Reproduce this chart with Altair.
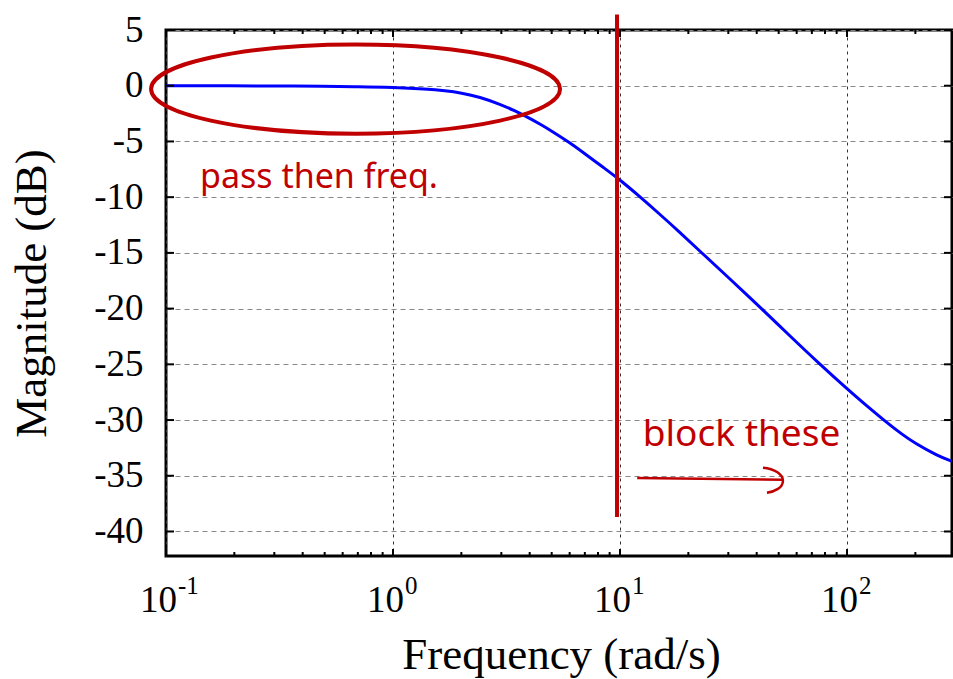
import altair as alt
import pandas as pd

# ---- data ----
freq = [0.1, 0.2, 0.3, 0.5, 0.7, 1.0, 1.4, 1.7, 2.0, 2.4, 3.0, 3.4, 3.9, 4.5, 5.0,
        6.0, 7.0, 8.5, 10, 12.3, 15, 18, 22.9, 30, 42, 55, 75, 100, 120, 145,
        175, 200, 250, 290]
mag = [0.0, -0.01, -0.02, -0.05, -0.08, -0.15, -0.3, -0.45, -0.65, -1.0, -1.7, -2.2,
       -2.8, -3.5, -4.07, -5.1, -6.1, -7.38, -8.45, -10.0, -11.55, -13.0, -15.0, -17.2,
       -20.0, -22.3, -24.9, -27.2, -28.6, -30.0, -31.3, -32.1, -33.2, -33.7]

y_ticks = [5, 0, -5, -10, -15, -20, -25, -30, -35, -40]
decades = [0.1, 1, 10, 100]
exponents = ["-1", "0", "1", "2"]
minor_x = [0.2, 0.3, 0.4, 0.5, 0.6, 0.7, 0.8, 0.9,
           2, 3, 4, 5, 6, 7, 8, 9,
           20, 30, 40, 50, 60, 70, 80, 90, 200]

# annotations (data coordinates)
ellipse_f, ellipse_db = [0.684], [-0.3]
cut_f, cut_top, cut_bottom = [9.7], [6.4], [-38.7]
note_labels = ["pass then freq.", "block these"]
note_f = [0.1412, 12.6]
note_db = [-9.15, -32.3]
note_size = [34, 37]
arrow_f, arrow_f2 = [11.9], [52.2]
arrow_db, arrow_db2 = [-35.2], [-35.35]

W, H = 786, 526
RED = "#C00000"
SERIF = "Liberation Serif"

xscale = alt.Scale(type="log", domain=[0.1, 290], nice=False)
yscale = alt.Scale(domain=[-42.2, 5], nice=False, zero=False)

xaxis = alt.Axis(
    values=decades, grid=True, gridColor="#333333", gridDash=[3, 4],
    gridWidth=1, gridOpacity=1, labels=False, ticks=False, domain=False,
    title="Frequency (rad/s)", titleFont=SERIF, titleFontSize=45,
    titleFontWeight="normal", titleColor="black",
    titleX=395, titleY=112, titleAlign="center", titleBaseline="alphabetic")
yaxis = alt.Axis(
    values=y_ticks, grid=True, gridColor="#888888", gridDash=[5, 4],
    gridWidth=1, gridOpacity=1, ticks=False, domain=False,
    labelExpr="'' + datum.value", labelFont=SERIF, labelFontSize=37,
    labelColor="black", labelPadding=23, labelBaseline="middle",
    title="Magnitude (dB)", titleFont=SERIF, titleFontSize=45,
    titleFontWeight="normal", titleColor="black", titleAngle=270,
    titleX=-121, titleY=263, titleAlign="center", titleBaseline="alphabetic")


def X(field):
    return alt.X(field, scale=xscale, axis=xaxis)


def Y(field):
    return alt.Y(field, scale=yscale, axis=yaxis)


curve_df = pd.DataFrame({"f": freq, "db": mag})

curve = alt.Chart(curve_df).mark_line(
    color="#0000FF", strokeWidth=3, interpolate="basis", clip=True
).encode(x=X("f:Q"), y=Y("db:Q"))

ellipse_path = ("M-1,0 C-1,-0.1204 -0.5523,-0.218 0,-0.218 "
                "C0.5523,-0.218 1,-0.1204 1,0 "
                "C1,0.1204 0.5523,0.218 0,0.218 "
                "C-0.5523,0.218 -1,0.1204 -1,0 Z")
ellipse = alt.Chart(pd.DataFrame({"f": ellipse_f, "db": ellipse_db})).mark_point(
    shape=ellipse_path, size=409 * 409, filled=False, strokeWidth=4,
    color=RED, opacity=1, clip=False
).encode(x=X("f:Q"), y=Y("db:Q"))

cutoff = alt.Chart(pd.DataFrame({"f": cut_f, "top": cut_top, "bot": cut_bottom})).mark_rule(
    color=RED, strokeWidth=4, clip=False
).encode(x=X("f:Q"), y=Y("top:Q"), y2="bot:Q")

notes = alt.Chart(pd.DataFrame({"f": note_f, "db": note_db, "t": note_labels,
                                "s": note_size})).mark_text(
    color=RED, font="Noto Sans", align="left", baseline="alphabetic"
).encode(x=X("f:Q"), y=Y("db:Q"), text="t:N",
         size=alt.Size("s:Q", scale=None, legend=None))

shaft = alt.Chart(pd.DataFrame({"f": arrow_f, "f2": arrow_f2,
                                "db": arrow_db, "db2": arrow_db2})).mark_rule(
    color=RED, strokeWidth=2.5
).encode(x=X("f:Q"), x2="f2:Q", y=Y("db:Q"), y2="db2:Q")

head_path = "M-1,-0.6 C-0.4,-0.55 0,-0.25 0,0.05 C0,0.4 -0.4,0.6 -0.8,0.65"
head = alt.Chart(pd.DataFrame({"f": arrow_f2, "db": arrow_db2})).mark_point(
    shape=head_path, size=40 * 40, filled=False, strokeWidth=2.5, color=RED, opacity=1
).encode(x=X("f:Q"), y=Y("db:Q"))

# inward tick marks (gnuplot style)
yt_df = pd.DataFrame({"v": y_ticks})
ytick_l = alt.Chart(yt_df).mark_rule(color="black", strokeWidth=2).encode(
    y=Y("v:Q"), x=alt.value(0), x2=alt.value(8))
ytick_r = alt.Chart(yt_df).mark_rule(color="black", strokeWidth=2).encode(
    y=Y("v:Q"), x=alt.value(W - 8), x2=alt.value(W))

dec_df = pd.DataFrame({"v": decades, "e": exponents})
min_df = pd.DataFrame({"v": minor_x})
xtick_maj_b = alt.Chart(dec_df).mark_rule(color="black", strokeWidth=2).encode(
    x=X("v:Q"), y=alt.value(H), y2=alt.value(H - 7))
xtick_maj_t = alt.Chart(dec_df).mark_rule(color="black", strokeWidth=2).encode(
    x=X("v:Q"), y=alt.value(0), y2=alt.value(7))
xtick_min_b = alt.Chart(min_df).mark_rule(color="black", strokeWidth=2).encode(
    x=X("v:Q"), y=alt.value(H), y2=alt.value(H - 4))
xtick_min_t = alt.Chart(min_df).mark_rule(color="black", strokeWidth=2).encode(
    x=X("v:Q"), y=alt.value(0), y2=alt.value(4))

# x tick labels 10^n
xlab_base = alt.Chart(dec_df).mark_text(
    font=SERIF, fontSize=37, color="black", align="right", baseline="alphabetic", dx=11
).encode(x=X("v:Q"), y=alt.value(H + 56), text=alt.value("10"))
xlab_exp = alt.Chart(dec_df).mark_text(
    font=SERIF, fontSize=25, color="black", align="left", baseline="alphabetic", dx=12
).encode(x=X("v:Q"), y=alt.value(H + 38), text="e:N")

chart = alt.layer(
    curve, ellipse, cutoff, notes, shaft, head,
    ytick_l, ytick_r, xtick_maj_b, xtick_maj_t, xtick_min_b, xtick_min_t,
    xlab_base, xlab_exp
).properties(
    width=W, height=H,
    autosize=alt.AutoSizeParams(type="none"),
    padding={"left": 166, "top": 30, "right": 1, "bottom": 123},
    background="white",
).configure_view(stroke="black", strokeWidth=3)

chart.save("out.html", embed_options={"renderer": "svg", "actions": False})
